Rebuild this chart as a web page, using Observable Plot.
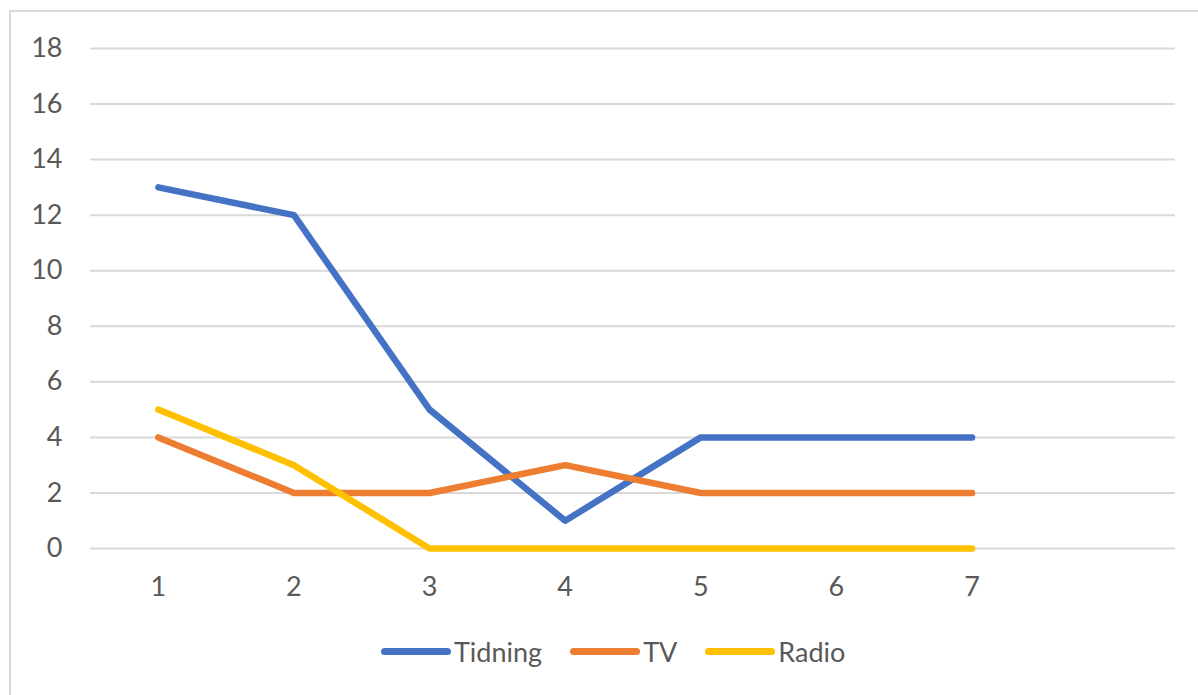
<!DOCTYPE html>
<html>
<head>
<meta charset="utf-8">
<script src="https://cdn.jsdelivr.net/npm/d3@7"></script>
<script src="https://cdn.jsdelivr.net/npm/@observablehq/plot@0.6"></script>
<style>
  html, body { margin: 0; padding: 0; background: #fff; }
  body { width: 1198px; height: 695px; position: relative; overflow: hidden; font-family: Lato, "Liberation Sans", sans-serif; }
  #frame { position: absolute; left: 9px; top: 10px; width: 1200px; height: 700px; border-left: 2px solid #d9d9d9; border-top: 2px solid #d9d9d9; box-sizing: border-box; }
  #chart { position: absolute; left: 0; top: 0; }
  #legend { position: absolute; left: 381px; top: 635px; display: flex; align-items: center; font-size: 27px; color: #595959; }
  .item { display: flex; align-items: center; margin-right: 28px; }
  .sw { width: 70px; height: 7px; border-radius: 4px; margin-right: 3px; }
</style>
</head>
<body>
<div id="frame"></div>
<div id="chart"></div>
<div id="legend"></div>
<script>
const categories = [1, 2, 3, 4, 5, 6, 7];
const seriesNames = ["Tidning", "TV", "Radio"];
const tidning = [13, 12, 5, 1, 4, 4, 4];
const tv = [4, 2, 2, 3, 2, 2, 2];
const radio = [5, 3, 0, 0, 0, 0, 0];
const colors = ["#4472C4", "#ED7D31", "#FFC000"];
const yTicks = [0, 2, 4, 6, 8, 10, 12, 14, 16, 18];

const seriesValues = [tidning, tv, radio];
const data = [];
seriesNames.forEach((name, i) => {
  categories.forEach((c, j) => data.push({series: name, x: c, y: seriesValues[i][j]}));
});

const chart = Plot.plot({
  width: 1198,
  height: 620,
  marginLeft: 90,
  marginRight: 23,
  marginTop: 48,
  marginBottom: 72,
  style: { fontFamily: "Lato, 'Liberation Sans', sans-serif", fontSize: "27px", color: "#595959", background: "transparent" },
  x: { domain: [0.5, 8.5] },
  y: { domain: [0, 18] },
  color: { domain: seriesNames, range: colors },
  marks: [
    Plot.gridY(yTicks, { stroke: "#d9d9d9", strokeOpacity: 1, strokeWidth: 2 }),
    Plot.axisY(yTicks, { tickSize: 0, tickPadding: 28, label: null, fill: "#595959", fontSize: 27 }),
    Plot.axisX(categories, { tickSize: 0, tickPadding: 28, label: null, fill: "#595959", fontSize: 27, tickFormat: d => String(d) }),
    Plot.line(data, { x: "x", y: "y", z: "series", stroke: "series", strokeWidth: 6.5, strokeLinecap: "round", strokeLinejoin: "round" })
  ]
});
document.getElementById("chart").appendChild(chart);

const legend = document.getElementById("legend");
seriesNames.forEach((name, i) => {
  const item = document.createElement("div");
  item.className = "item";
  const sw = document.createElement("div");
  sw.className = "sw";
  sw.style.background = colors[i];
  const t = document.createElement("span");
  t.textContent = name;
  item.appendChild(sw);
  item.appendChild(t);
  legend.appendChild(item);
});
</script>
</body>
</html>
